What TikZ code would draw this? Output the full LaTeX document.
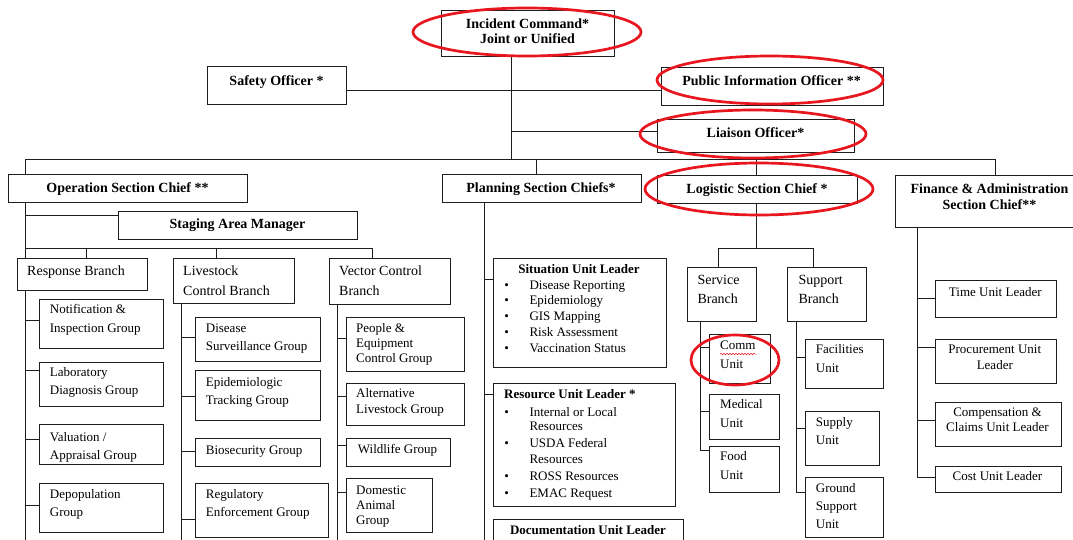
\documentclass[tikz,border=0pt]{standalone}
\usepackage{fontspec}
\setmainfont{Liberation Serif}
\usetikzlibrary{calc,decorations.pathmorphing}
\definecolor{hlred}{RGB}{232,22,30}
\definecolor{ink}{RGB}{30,30,30}
% strut: height 9pt, depth 3pt, keeps line centres consistent
\newcommand\sx{\rule[-3pt]{0pt}{12pt}}
% box by its top-left and bottom-right corners
\newcommand\ubox[5]{\node[box, anchor=north west, minimum width={(#4)-(#2)}, minimum height={(#5)-(#3)}] (#1) at (#2,#3) {};}
% bullet line: name, y, text
\newcommand\bitem[3]{%
  \node[un, anchor=center] (#1-b) at (506.7,#2) {\sx\textbullet};
  \node[un] (#1-t) at (529.3,#2) {\sx #3};}
\begin{document}
\begin{tikzpicture}[x=1pt,y=-1pt,
  box/.style={draw=ink, line width=0.9pt, rectangle, inner sep=0pt, fill=white},
  wire/.style={draw=ink, line width=0.9pt},
  hl/.style={draw=hlred, line width=2.7pt},
  hd/.style={inner sep=0pt, font=\fontsize{14}{#1}\selectfont\bfseries, align=center},
  hd/.default=15.2,
  hdu/.style={inner sep=0pt, font=\fontsize{13}{15}\selectfont\bfseries, align=center},
  br/.style={inner sep=0pt, font=\fontsize{14}{19.3}\selectfont, align=left, anchor=west},
  un/.style={inner sep=0pt, font=\fontsize{13}{#1}\selectfont, align=left, anchor=west},
  un/.default=18.3,
  uc/.style={inner sep=0pt, font=\fontsize{13}{#1}\selectfont, align=center},
  uc/.default=15.5]
\useasboundingbox (0,0) rectangle (1073,540);
\clip (0,0) rectangle (1073,540);
\fill[white] (0,0) rectangle (1073,540);

% ---------------- command staff ----------------
\ubox{ic}{441}{10}{614}{56}
\node[hd] (ic-t) at (527.5,33) {\sx Incident Command*\\\sx Joint or Unified};
\ubox{safety}{207}{66}{346}{104}
\node[hd] (safety-t) at (276.5,82) {\sx Safety Officer *};
\ubox{pio}{660.5}{67}{882.5}{105}
\node[hd] (pio-t) at (771.5,82) {\sx Public Information Officer **};
\ubox{liaison}{657}{119}{854}{152}
\node[hd] (liaison-t) at (755.5,134) {\sx Liaison Officer*};

% ---------------- section chiefs ----------------
\ubox{ops}{8}{174}{247}{202}
\node[hd] (ops-t) at (127.5,189) {\sx Operation Section Chief **};
\ubox{plan}{441.5}{174}{641}{202}
\node[hd] (plan-t) at (541,189) {\sx Planning Section Chiefs*};
\ubox{logi}{657}{175}{857}{203}
\node[hd] (logi-t) at (757,190) {\sx Logistic Section Chief *};
\ubox{fin}{895}{175}{1084}{227}
\node[hd=16] (fin-t) at (989.5,198) {\sx Finance \& Administration\\\sx Section Chief**};
\ubox{staging}{118}{211}{357}{239}
\node[hd] (staging-t) at (237.5,225.5) {\sx Staging Area Manager};

% command wires
\coordinate (icbus) at (511,159.5);
\coordinate (sp) at (511,90);
\coordinate (li) at (511,131);
\coordinate (busL) at (25.5,159.5);
\coordinate (busR) at (995,159.5);
\coordinate (bplan) at (536,159.5);
\coordinate (blogi) at (756,159.5);
\draw[wire] (ic.south -| icbus) -- (icbus);
\draw[wire] (safety.east |- sp) -- (pio.west |- sp);
\draw[wire] (li) -- (liaison.west |- li);
\draw[wire] (ops.north -| busL) -- (busL) -- (busR) -- (fin.north -| busR);
\draw[wire] (bplan) -- (plan.north -| bplan);
\draw[wire] (blogi) -- (logi.north -| blogi);

% ---------------- operations ----------------
\ubox{resp}{16.7}{258.3}{146.7}{290}
\node[br] (resp-t) at (27,272.5) {\sx Response Branch};
\ubox{live}{172.7}{258.3}{294}{302.7}
\node[br] (live-t) at (183,282) {\sx Livestock\\\sx Control Branch};
\ubox{vect}{328.7}{258.3}{449.7}{303.7}
\node[br] (vect-t) at (339,282) {\sx Vector Control\\\sx Branch};

\coordinate (stg) at (25.5,215.5);
\coordinate (obL) at (25.5,248.3);
\coordinate (obR) at (372,248.3);
\coordinate (obresp) at (86,248.3);
\coordinate (oblive) at (216,248.3);
\draw[wire] (ops.south -| obL) -- (resp.north -| obL);
\draw[wire] (stg) -- (staging.west |- stg);
\draw[wire] (obL) -- (obR) -- (vect.north -| obR);
\draw[wire] (obresp) -- (resp.north -| obresp);
\draw[wire] (oblive) -- (live.north -| oblive);

% response branch groups
\ubox{notif}{39.3}{298.7}{163.3}{348.3}
\node[un=19] (notif-t) at (49.7,319.8) {\sx Notification \&\\\sx Inspection Group};
\ubox{lab}{39.3}{361.7}{163.3}{405.7}
\node[un] (lab-t) at (49.7,382.6) {\sx Laboratory\\\sx Diagnosis Group};
\ubox{val}{39.3}{424.3}{163.3}{464.3}
\begin{scope}
  \clip (val.north west) rectangle (val.south east);
  \node[un] (val-t) at (49.7,447.5) {\sx Valuation /\\\sx Appraisal Group};
\end{scope}
\ubox{depop}{39.3}{482.7}{163.3}{532.3}
\node[un] (depop-t) at (49.7,504.3) {\sx Depopulation\\\sx Group};
\coordinate (rtop) at (25.7,290);
\coordinate (rbot) at (25.7,545);
\draw[wire] (resp.south -| rtop) -- (rbot);
\foreach \n/\yy in {notif/320, lab/370, val/439, depop/505.7}
  \draw[wire] (25.7,\yy) -- (\n.west |- 0,\yy);

% livestock control branch groups
\ubox{dis}{195.3}{317}{320}{361}
\node[un] (dis-t) at (205.7,338.3) {\sx Disease\\\sx Surveillance Group};
\ubox{epi}{195.3}{370.3}{320}{420}
\node[un] (epi-t) at (205.7,392.5) {\sx Epidemiologic\\\sx Tracking Group};
\ubox{bio}{195.3}{438.3}{320}{465.7}
\node[un] (bio-t) at (205.7,451.5) {\sx Biosecurity Group};
\ubox{reg}{195.3}{482.7}{328.3}{536.7}
\node[un] (reg-t) at (205.7,504.3) {\sx Regulatory\\\sx Enforcement Group};
\coordinate (lbot) at (181.7,545);
\draw[wire] (live.south -| lbot) -- (lbot);
\foreach \n/\yy in {dis/337.7, epi/396.7, bio/451, reg/519.3}
  \draw[wire] (181.7,\yy) -- (\n.west |- 0,\yy);

% vector control branch groups
\ubox{peq}{345.7}{317}{464}{371}
\node[un=15] (peq-t) at (356,344) {\sx People \&\\\sx Equipment\\\sx Control Group};
\ubox{alt}{345.7}{383.3}{464}{425}
\node[un=15.3] (alt-t) at (356,402.5) {\sx Alternative\\\sx Livestock Group};
\ubox{wild}{345.7}{438.3}{449.7}{465.7}
\node[un] (wild-t) at (357.7,450) {\sx Wildlife Group};
\ubox{dom}{345.7}{478.3}{432.3}{532.3}
\node[un=15.2] (dom-t) at (356,506.5) {\sx Domestic\\\sx Animal\\\sx Group};
\coordinate (vbot) at (337.3,545);
\draw[wire] (vect.south -| vbot) -- (vbot);
\foreach \n/\yy in {peq/338.3, alt/396.7, wild/445.7, dom/492.3}
  \draw[wire] (337.3,\yy) -- (\n.west |- 0,\yy);

% ---------------- planning ----------------
\ubox{sit}{493.3}{258.3}{666}{366.7}
\node[hdu] (sit-t) at (579,270.8) {\sx Situation Unit Leader};
\bitem{s1}{286.5}{Disease Reporting}
\bitem{s2}{301.8}{Epidemiology}
\bitem{s3}{317.5}{GIS Mapping}
\bitem{s4}{333.5}{Risk Assessment}
\bitem{s5}{349.1}{Vaccination Status}

\ubox{res}{493.3}{383.3}{675}{505.7}
\node[hdu, anchor=west] (res-t) at (504,395.1) {\sx Resource Unit Leader *};
\bitem{r1}{413.5}{Internal or Local}
\node[un] (r1-c) at (529.3,427.5) {\sx Resources};
\bitem{r2}{444.8}{USDA Federal}
\node[un] (r2-c) at (529.3,460.1) {\sx Resources};
\bitem{r3}{477.5}{ROSS Resources}
\bitem{r4}{494.1}{EMAC Request}

\ubox{doc}{493.3}{519.3}{683.3}{550}
\node[hdu] (doc-t) at (588,531.8) {\sx Documentation Unit Leader};

\coordinate (pbot) at (484.5,548);
\draw[wire] (plan.south -| pbot) -- (pbot);
\foreach \n/\yy in {sit/279.3, res/394.3}
  \draw[wire] (484.5,\yy) -- (\n.west |- 0,\yy);

% ---------------- logistics ----------------
\ubox{serv}{686.7}{267.3}{756}{321}
\node[br] (serv-t) at (697.3,291) {\sx Service\\\sx Branch};
\ubox{supp}{787.3}{267.3}{865.7}{321}
\node[br] (supp-t) at (798.3,291) {\sx Support\\\sx Branch};
\coordinate (lgb) at (756,248.3);
\coordinate (lgL) at (718.3,248.3);
\coordinate (lgR) at (813.3,248.3);
\draw[wire] (logi.south -| lgb) -- (lgb);
\draw[wire] (serv.north -| lgL) -- (lgL) -- (lgR) -- (supp.north -| lgR);

\ubox{comm}{709.3}{334.3}{770}{382.7}
\node[un] (comm-t) at (720,356) {\sx Comm\\\sx Unit};
\ubox{med}{709.3}{394}{779}{438.7}
\node[un] (med-t) at (720,415) {\sx Medical\\\sx Unit};
\ubox{food}{709.3}{446}{779}{492.3}
\node[un=19] (food-t) at (720,467) {\sx Food\\\sx Unit};
\coordinate (svbot) at (700.7,450.7);
\draw[wire] (serv.south -| svbot) -- (svbot) -- (food.west |- svbot);
\foreach \n/\yy in {comm/347.7, med/411.7}
  \draw[wire] (700.7,\yy) -- (\n.west |- 0,\yy);
% spelling underline under the unit name
\draw[hlred, line width=0.5pt, decorate, decoration={snake, amplitude=0.7pt, segment length=3pt}] (720,354) -- (756,354);

\ubox{fac}{805}{339}{882.7}{388.3}
\node[un] (fac-t) at (815.7,360) {\sx Facilities\\\sx Unit};
\ubox{sup}{805}{411}{879.3}{465.3}
\node[un] (sup-t) at (815.7,432.6) {\sx Supply\\\sx Unit};
\ubox{gsu}{805}{477.3}{882.7}{536.7}
\node[un=18] (gsu-t) at (815.7,507) {\sx Ground\\\sx Support\\\sx Unit};
\coordinate (spbot) at (796,492.3);
\draw[wire] (supp.south -| spbot) -- (spbot) -- (gsu.west |- spbot);
\foreach \n/\yy in {fac/357.3, sup/428.3}
  \draw[wire] (796,\yy) -- (\n.west |- 0,\yy);

% ---------------- finance & administration ----------------
\ubox{time}{934.7}{280.3}{1056}{317}
\node[uc] (time-t) at (995.3,293) {\sx Time Unit Leader};
\ubox{proc}{934.7}{339}{1056}{383.3}
\node[uc=15.7] (proc-t) at (994.8,358.5) {\sx Procurement Unit\\\sx Leader};
\ubox{comp}{934.7}{401.7}{1061.3}{446}
\node[uc=15] (comp-t) at (997.5,421) {\sx Compensation \&\\\sx Claims Unit Leader};
\ubox{cost}{934.7}{465.7}{1061.3}{492.3}
\node[uc] (cost-t) at (997.5,477.5) {\sx Cost Unit Leader};
\coordinate (fbot) at (917.3,477.3);
\draw[wire] (fin.south -| fbot) -- (fbot) -- (cost.west |- fbot);
\foreach \n/\yy in {time/298.7, proc/347.3, comp/420}
  \draw[wire] (917.3,\yy) -- (\n.west |- 0,\yy);

% ---------------- highlight rings ----------------
\draw[hl] (527,32) ellipse [x radius=114, y radius=24];
\draw[hl] (770,80) ellipse [x radius=113, y radius=24];
\draw[hl] (753,134) ellipse [x radius=113, y radius=24];
\draw[hl] (759,189) ellipse [x radius=114, y radius=26];
\draw[hl] (735,360) ellipse [x radius=44, y radius=25];
\end{tikzpicture}
\end{document}
